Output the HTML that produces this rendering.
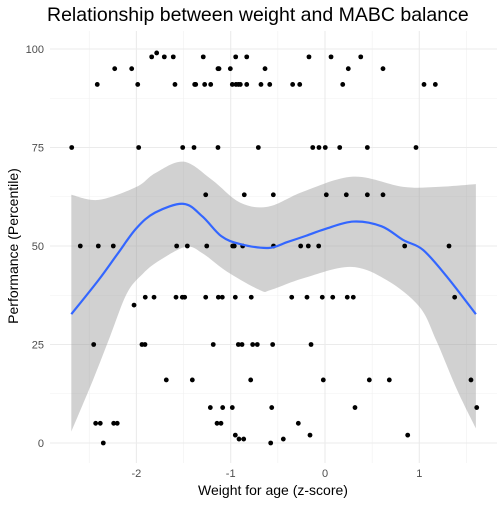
<!DOCTYPE html>
<html><head><meta charset="utf-8"><style>
body{margin:0;background:#fff;font-family:"Liberation Sans",sans-serif}
svg text{font-family:"Liberation Sans",sans-serif}
</style></head><body>
<svg id="chart" width="504" height="504">
<text x="47" y="21" font-size="19.5" fill="#000">Relationship between weight and MABC balance</text>
<g id="grid"></g><g id="band"></g><g id="pts"></g><g id="line"></g><g id="axes"></g>
<text x="273" y="495" font-size="14" text-anchor="middle">Weight for age (z-score)</text>
<text transform="translate(18,246) rotate(-90)" font-size="14" text-anchor="middle">Performance (Percentile)</text>
</svg>
<script>
const xTicks=[-2,-1,0,1];
const yTicks=[0,25,50,75,100];
const ptX=[-1.785,-1.838,-1.704,-1.609,-1.291,-0.947,-0.830,-0.170,0.064,0.379,
-2.230,-2.050,-1.135,-1.124,-1.004,-0.636,0.247,0.615,
-2.415,-1.986,-1.591,-1.382,-1.371,-1.276,-1.212,-0.983,-0.944,-0.919,-0.898,-0.830,-0.679,-0.586,-0.343,-0.268,0.188,1.050,1.170,
-2.686,-1.976,-1.509,-1.389,-1.135,-0.707,-0.130,-0.064,0.003,0.156,0.449,0.965,
-1.265,-0.856,-0.548,0.014,0.226,0.449,0.615,
-2.595,-2.404,-2.245,-1.573,-1.460,-1.254,-0.979,-0.962,-0.873,-0.546,-0.258,-0.177,-0.067,0.845,1.315,
-1.906,-1.813,-1.580,-1.513,-1.488,-1.265,-1.131,-1.089,-0.951,-0.782,-0.353,-0.191,-0.029,0.082,0.236,0.300,1.375,
-2.025,
-2.453,-1.941,-1.909,-1.185,-0.919,-0.880,-0.767,-0.718,-0.555,-0.148,
-1.683,-1.407,-0.788,-0.018,0.470,0.682,1.548,
-1.216,-1.085,-0.983,-0.565,0.318,1.609,
-2.432,-2.383,-2.241,-2.203,-1.145,-1.103,-0.283,
-0.951,-0.159,0.877,
-0.912,-0.862,-0.442,
-2.351,-0.576];
const ptY=[99,98,98,98,98,98,98,98,98,98,
95,95,95,95,95,95,95,95,
91,91,91,91,91,91,91,91,91,91,91,91,91,91,91,91,91,91,91,
75,75,75,75,75,75,75,75,75,75,75,75,
63,63,63,63,63,63,63,
50,50,50,50,50,50,50,50,50,50,50,50,50,50,50,
37,37,37,37,37,37,37,37,37,37,37,37,37,37,37,37,37,
35,
25,25,25,25,25,25,25,25,25,25,
16,16,16,16,16,16,16,
9,9,9,9,9,9,
5,5,5,5,5,5,5,
2,2,2,
1,1,1,
0,0];
const fitX=[-2.69,-2.4,-2.2,-2.0,-1.8,-1.5,-1.3,-1.1,-0.9,-0.6,-0.4,-0.2,0,0.3,0.6,0.83,1.04,1.3,1.6];
const fitY=[32.7,41.4,48,54.5,58.5,60.7,57.5,52.5,50.5,49.5,51,52.6,54.3,56.2,55,51.5,49,42,32.7];
const upX=[-2.69,-2.4,-2.0,-1.8,-1.5,-1.2,-0.9,-0.6,-0.23,0.3,0.83,1.2,1.6];
const upY=[63,61.7,65,68.5,71.4,66.8,61,60,63.8,67.6,65,65,65.7];
const loX=[-2.69,-2.46,-2.28,-2.1,-1.93,-1.75,-1.47,-1.29,-1.04,-0.69,-0.58,-0.23,0.27,0.65,1.0,1.18,1.4,1.6];
const loY=[2.9,16,27,38,43,46.4,49.8,48,43.5,38.8,38.8,41.8,44.7,41.4,34.6,26,13.5,3.7];
const sx=v=>325+v*94.3, sy=v=>443-v*3.94;
const NS='http://www.w3.org/2000/svg';
function mk(t,a,p){const e=document.createElementNS(NS,t);for(const k in a)e.setAttribute(k,a[k]);p.appendChild(e);return e;}
const L=50,R=497,T=31,B=463;
const grid=document.getElementById('grid');
[-2.5,-1.5,-0.5,0.5,1.5].forEach(v=>{const e=mk('line',{x1:sx(v),x2:sx(v),y1:T,y2:B,stroke:'#f0f0f0','stroke-width':0.6},grid);

});
[12.5,37.5,62.5,87.5].forEach(v=>{const e=mk('line',{x1:L,x2:R,y1:sy(v),y2:sy(v),stroke:'#f0f0f0','stroke-width':0.6},grid);

});
const ax=document.getElementById('axes');
xTicks.forEach(v=>{const e=mk('line',{x1:sx(v),x2:sx(v),y1:T,y2:B,stroke:'#ebebeb','stroke-width':1.1},grid);


const t=mk('text',{x:sx(v),y:477,'font-size':11,fill:'#4d4d4d','text-anchor':'middle'},ax);t.textContent=v;

});
yTicks.forEach(v=>{const e=mk('line',{x1:L,x2:R,y1:sy(v),y2:sy(v),stroke:'#ebebeb','stroke-width':1.1},grid);


const t=mk('text',{x:44,y:sy(v)+4,'font-size':11,fill:'#4d4d4d','text-anchor':'end'},ax);t.textContent=v;

});
const pts=document.getElementById('pts');
ptX.forEach((x,i)=>{const c=mk('circle',{cx:sx(x),cy:sy(ptY[i]),r:2.4,fill:'#000'},pts);

});
function smooth(xs,ys){let d='M'+sx(xs[0])+','+sy(ys[0]);
for(let i=0;i<xs.length-1;i++){const x0=sx(xs[i]),y0=sy(ys[i]),x1=sx(xs[i+1]),y1=sy(ys[i+1]);
const xp=sx(xs[Math.max(i-1,0)]),yp=sy(ys[Math.max(i-1,0)]),xn=sx(xs[Math.min(i+2,xs.length-1)]),yn=sy(ys[Math.min(i+2,xs.length-1)]);
d+=' C'+(x0+(x1-xp)/6)+','+(y0+(y1-yp)/6)+' '+(x1-(xn-x0)/6)+','+(y1-(yn-y0)/6)+' '+x1+','+y1;}return d;}
const up=smooth(upX,upY);
const loR=smooth(loX.slice().reverse(),loY.slice().reverse()).replace('M','L');
const band=mk('path',{d:up+' '+loR+' Z',fill:'#999','fill-opacity':0.45},document.getElementById('band'));


const ln=mk('path',{d:smooth(fitX,fitY),fill:'none',stroke:'#3366ff','stroke-width':2.2},document.getElementById('line'));


</script>
</body></html>
